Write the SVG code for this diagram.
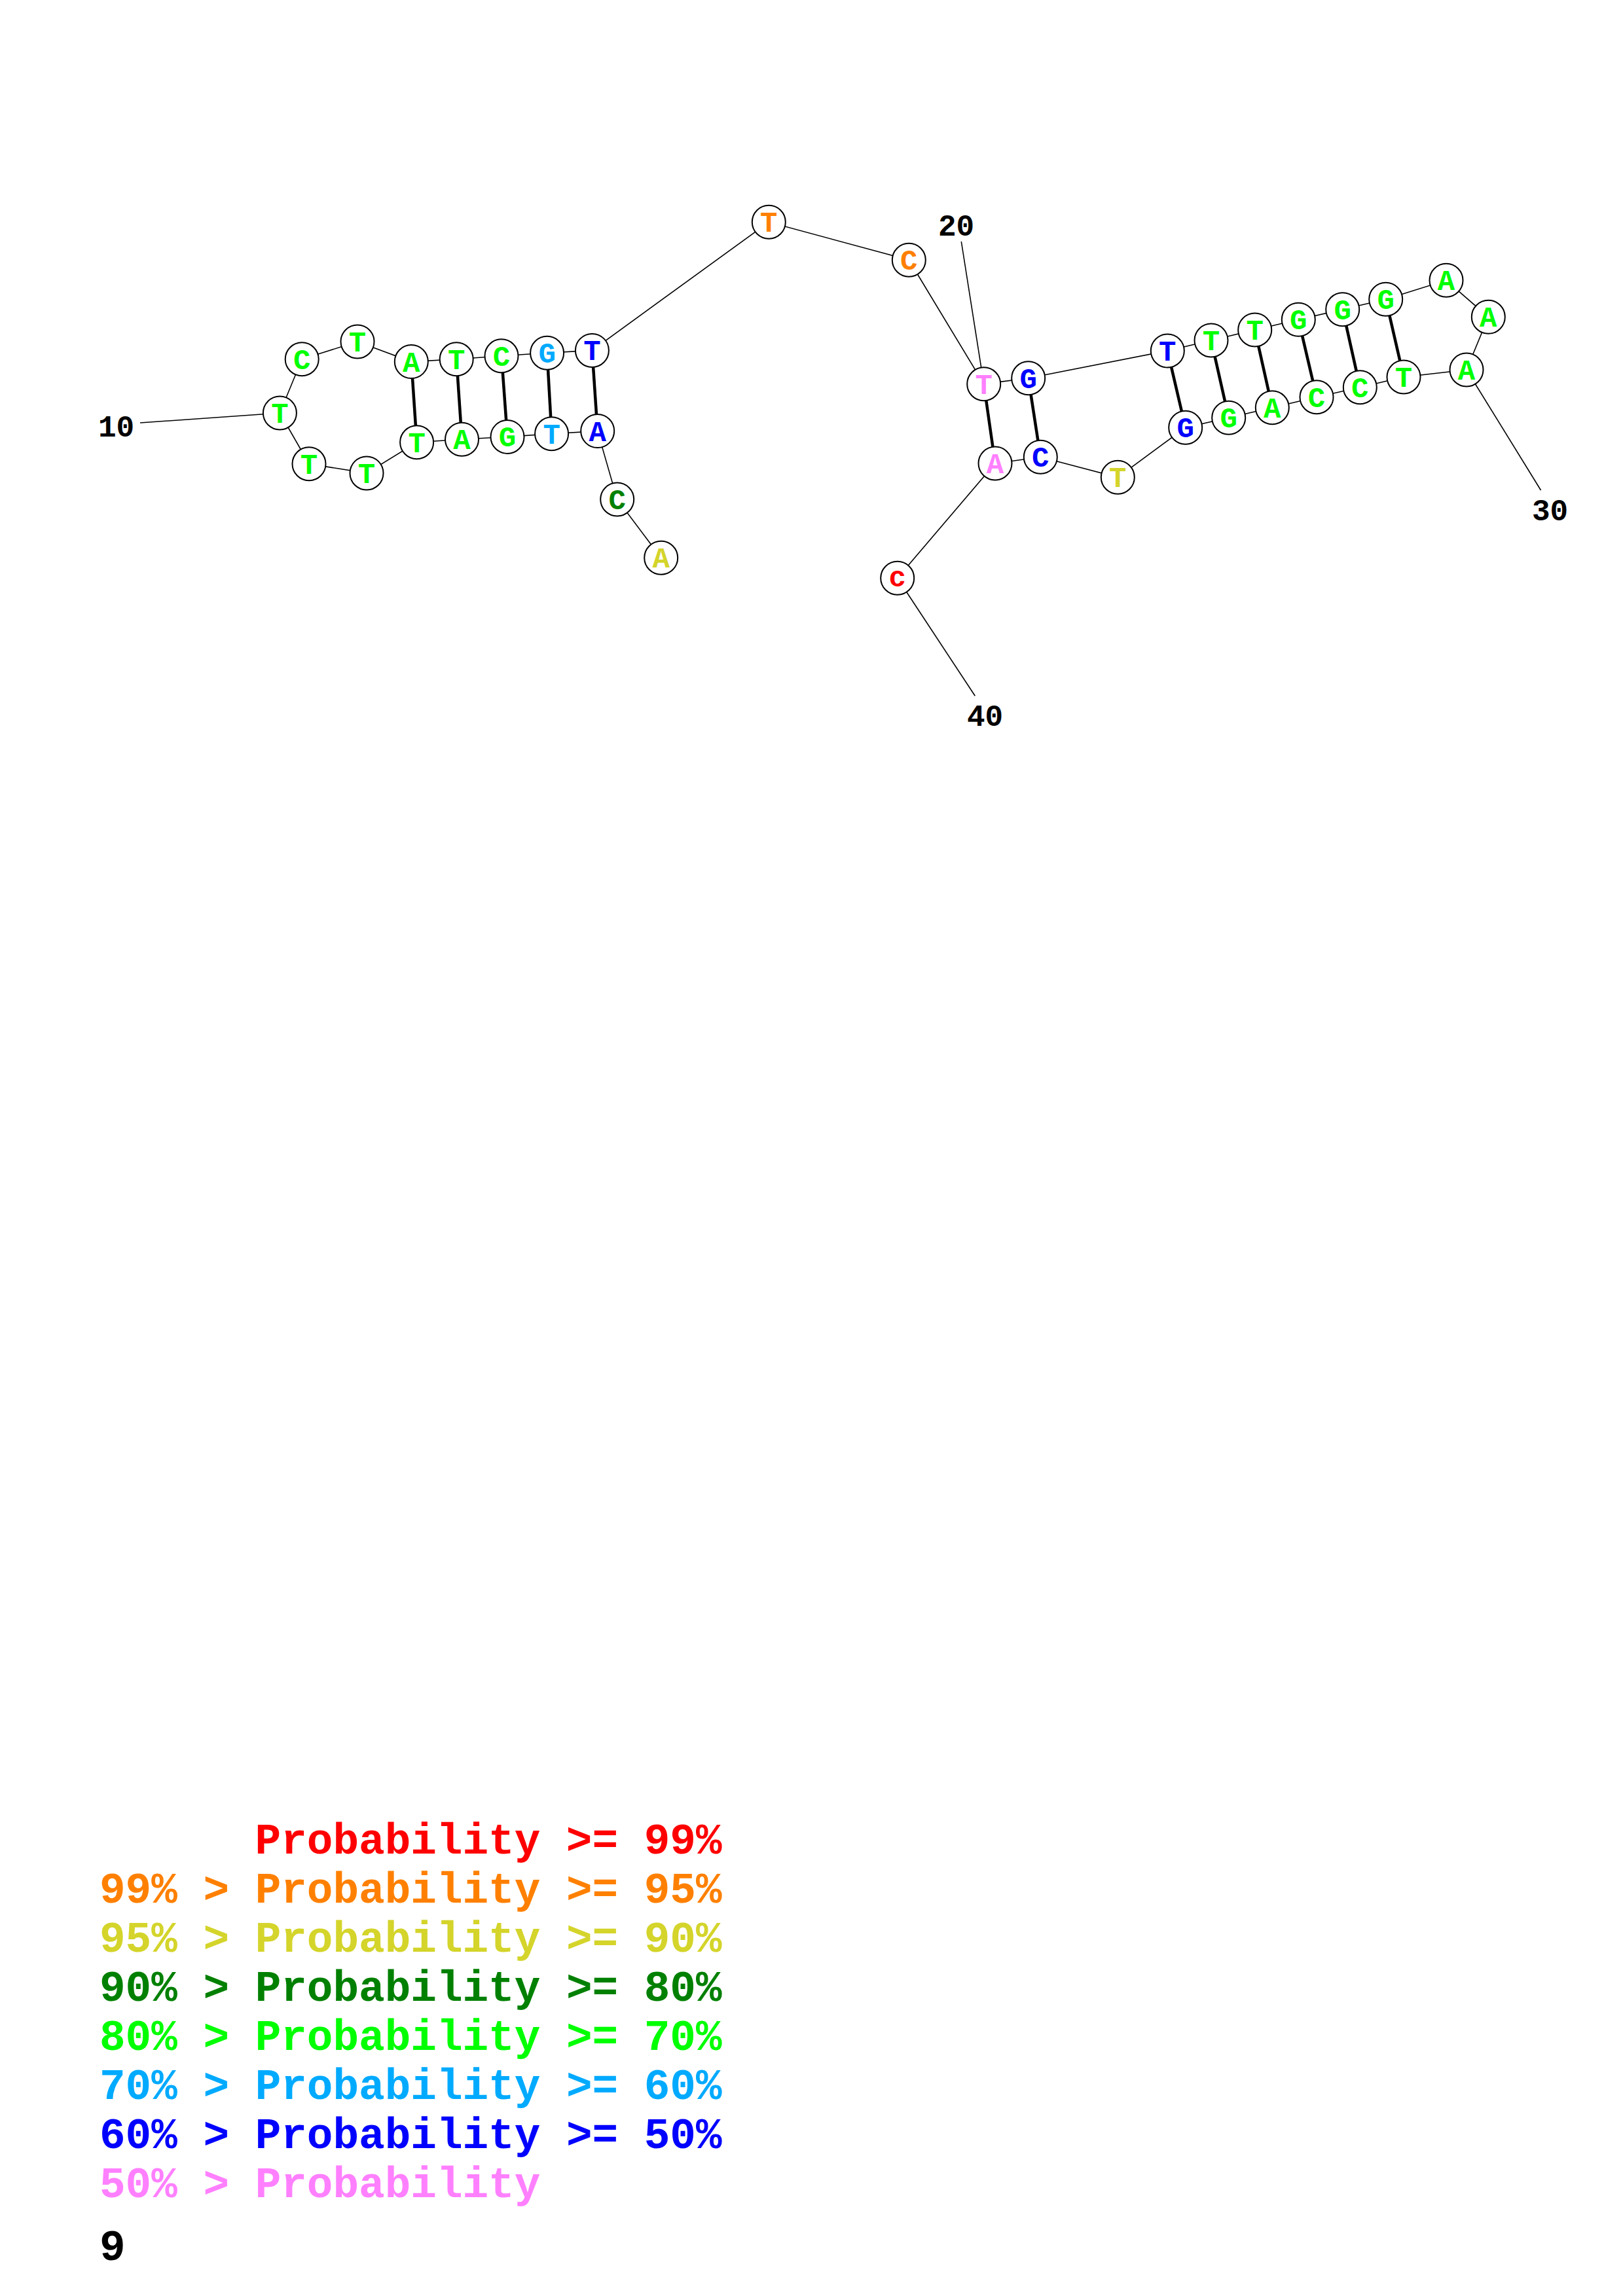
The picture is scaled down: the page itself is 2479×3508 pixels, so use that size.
<svg xmlns="http://www.w3.org/2000/svg" width="2479" height="3508" viewBox="0 0 2479 3508">
<style>
.bb{stroke:#000;stroke-width:1.6;fill:none}
.pr{stroke:#000;stroke-width:4.5;fill:none}
.lb{stroke:#000;stroke-width:1.6;fill:none}
.nd circle{fill:#fff;stroke:#000;stroke-width:2}
.nd text{font-family:"Liberation Mono","DejaVu Sans Mono",monospace;font-weight:bold;font-size:44px;text-anchor:middle}
.num{font-family:"Liberation Mono","DejaVu Sans Mono",monospace;font-weight:bold;font-size:46px;fill:#000}
.lg{font-family:"Liberation Mono","DejaVu Sans Mono",monospace;font-weight:bold;font-size:66px;white-space:pre}
.r{fill:#FF0000}.o{fill:#FF8000}.y{fill:#D4D42B}.dg{fill:#008000}.g{fill:#00FF00}.c{fill:#00AAFF}.b{fill:#0000FF}.p{fill:#FF80FF}
</style>
<rect width="2479" height="3508" fill="#fff"/>
<g id="connectors">
<polyline class="bb" points="1009.7,852.2 942.7,763 912.7,658.6 842.6,662.8 775,667.4 705.5,671.2 636.6,675.8 560,722.9 472,708.7 427.4,631 461.2,548.8 546,522 628.3,552.6 697.2,548.8 766,543.8 835.6,539.2 904.4,535.4 1174.3,339.3 1388.3,397.3 1502.7,586.7 1570.7,577.7 1783.3,536 1850,520 1916.7,504 1983.3,488.3 2050.7,472.7 2116.7,457.3 2209,428.3 2273.3,484.3 2240,565 2144,576 2077.3,591.7 2011,606.7 1943.3,622.7 1876.7,638.3 1810.7,653.3 1707.3,729.3 1589.3,698.3 1520,708 1370.7,883.3"/>
<line class="pr" x1="912.7" y1="658.6" x2="904.4" y2="535.4"/>
<line class="pr" x1="842.6" y1="662.8" x2="835.6" y2="539.2"/>
<line class="pr" x1="775" y1="667.4" x2="766" y2="543.8"/>
<line class="pr" x1="705.5" y1="671.2" x2="697.2" y2="548.8"/>
<line class="pr" x1="636.6" y1="675.8" x2="628.3" y2="552.6"/>
<line class="pr" x1="1502.7" y1="586.7" x2="1520" y2="708"/>
<line class="pr" x1="1570.7" y1="577.7" x2="1589.3" y2="698.3"/>
<line class="pr" x1="1783.3" y1="536" x2="1810.7" y2="653.3"/>
<line class="pr" x1="1850" y1="520" x2="1876.7" y2="638.3"/>
<line class="pr" x1="1916.7" y1="504" x2="1943.3" y2="622.7"/>
<line class="pr" x1="1983.3" y1="488.3" x2="2011" y2="606.7"/>
<line class="pr" x1="2050.7" y1="472.7" x2="2077.3" y2="591.7"/>
<line class="pr" x1="2116.7" y1="457.3" x2="2144" y2="576"/>
<line class="lb" x1="214" y1="646" x2="427.4" y2="631"/>
<line class="lb" x1="1468.3" y1="369" x2="1502.7" y2="586.7"/>
<line class="lb" x1="2353.5" y1="749" x2="2240" y2="565"/>
<line class="lb" x1="1489.3" y1="1063.3" x2="1370.7" y2="883.3"/>
</g>
<g id="n1" class="nd"><circle cx="1009.7" cy="852.2" r="25.5"/><text x="1009.7" y="867" class="y">A</text></g>
<g id="n2" class="nd"><circle cx="942.7" cy="763" r="25.5"/><text x="942.7" y="778" class="dg">C</text></g>
<g id="n3" class="nd"><circle cx="912.7" cy="658.6" r="25.5"/><text x="912.7" y="673.5" class="b">A</text></g>
<g id="n4" class="nd"><circle cx="842.6" cy="662.8" r="25.5"/><text x="842.6" y="677.7" class="c">T</text></g>
<g id="n5" class="nd"><circle cx="775" cy="667.4" r="25.5"/><text x="775" y="682.3" class="g">G</text></g>
<g id="n6" class="nd"><circle cx="705.5" cy="671.2" r="25.5"/><text x="705.5" y="686.1" class="g">A</text></g>
<g id="n7" class="nd"><circle cx="636.6" cy="675.8" r="25.5"/><text x="636.6" y="690.7" class="g">T</text></g>
<g id="n8" class="nd"><circle cx="560" cy="722.9" r="25.5"/><text x="560" y="737.8" class="g">T</text></g>
<g id="n9" class="nd"><circle cx="472" cy="708.7" r="25.5"/><text x="472" y="723.6" class="g">T</text></g>
<g id="n10" class="nd"><circle cx="427.4" cy="631" r="25.5"/><text x="427.4" y="645.9" class="g">T</text></g>
<g id="n11" class="nd"><circle cx="461.2" cy="548.8" r="25.5"/><text x="461.2" y="563.7" class="g">C</text></g>
<g id="n12" class="nd"><circle cx="546" cy="522" r="25.5"/><text x="546" y="536.9" class="g">T</text></g>
<g id="n13" class="nd"><circle cx="628.3" cy="552.6" r="25.5"/><text x="628.3" y="567.5" class="g">A</text></g>
<g id="n14" class="nd"><circle cx="697.2" cy="548.8" r="25.5"/><text x="697.2" y="563.7" class="g">T</text></g>
<g id="n15" class="nd"><circle cx="766" cy="543.8" r="25.5"/><text x="766" y="558.7" class="g">C</text></g>
<g id="n16" class="nd"><circle cx="835.6" cy="539.2" r="25.5"/><text x="835.6" y="554.1" class="c">G</text></g>
<g id="n17" class="nd"><circle cx="904.4" cy="535.4" r="25.5"/><text x="904.4" y="550.3" class="b">T</text></g>
<g id="n18" class="nd"><circle cx="1174.3" cy="339.3" r="25.5"/><text x="1174.3" y="354.2" class="o">T</text></g>
<g id="n19" class="nd"><circle cx="1388.3" cy="397.3" r="25.5"/><text x="1388.3" y="412.2" class="o">C</text></g>
<g id="n20" class="nd"><circle cx="1502.7" cy="586.7" r="25.5"/><text x="1502.7" y="601.6" class="p">T</text></g>
<g id="n21" class="nd"><circle cx="1570.7" cy="577.7" r="25.5"/><text x="1570.7" y="592.6" class="b">G</text></g>
<g id="n22" class="nd"><circle cx="1783.3" cy="536" r="25.5"/><text x="1783.3" y="550.9" class="b">T</text></g>
<g id="n23" class="nd"><circle cx="1850" cy="520" r="25.5"/><text x="1850" y="534.9" class="g">T</text></g>
<g id="n24" class="nd"><circle cx="1916.7" cy="504" r="25.5"/><text x="1916.7" y="518.9" class="g">T</text></g>
<g id="n25" class="nd"><circle cx="1983.3" cy="488.3" r="25.5"/><text x="1983.3" y="503.2" class="g">G</text></g>
<g id="n26" class="nd"><circle cx="2050.7" cy="472.7" r="25.5"/><text x="2050.7" y="487.6" class="g">G</text></g>
<g id="n27" class="nd"><circle cx="2116.7" cy="457.3" r="25.5"/><text x="2116.7" y="472.2" class="g">G</text></g>
<g id="n28" class="nd"><circle cx="2209" cy="428.3" r="25.5"/><text x="2209" y="443.2" class="g">A</text></g>
<g id="n29" class="nd"><circle cx="2273.3" cy="484.3" r="25.5"/><text x="2273.3" y="499.2" class="g">A</text></g>
<g id="n30" class="nd"><circle cx="2240" cy="565" r="25.5"/><text x="2240" y="579.9" class="g">A</text></g>
<g id="n31" class="nd"><circle cx="2144" cy="576" r="25.5"/><text x="2144" y="590.9" class="g">T</text></g>
<g id="n32" class="nd"><circle cx="2077.3" cy="591.7" r="25.5"/><text x="2077.3" y="606.6" class="g">C</text></g>
<g id="n33" class="nd"><circle cx="2011" cy="606.7" r="25.5"/><text x="2011" y="621.6" class="g">C</text></g>
<g id="n34" class="nd"><circle cx="1943.3" cy="622.7" r="25.5"/><text x="1943.3" y="637.6" class="g">A</text></g>
<g id="n35" class="nd"><circle cx="1876.7" cy="638.3" r="25.5"/><text x="1876.7" y="653.2" class="g">G</text></g>
<g id="n36" class="nd"><circle cx="1810.7" cy="653.3" r="25.5"/><text x="1810.7" y="668.2" class="b">G</text></g>
<g id="n37" class="nd"><circle cx="1707.3" cy="729.3" r="25.5"/><text x="1707.3" y="744.2" class="y">T</text></g>
<g id="n38" class="nd"><circle cx="1589.3" cy="698.3" r="25.5"/><text x="1589.3" y="713.2" class="b">C</text></g>
<g id="n39" class="nd"><circle cx="1520" cy="708" r="25.5"/><text x="1520" y="722.9" class="p">A</text></g>
<g id="n40" class="nd"><circle cx="1370.7" cy="883.3" r="25.5"/><text x="1370.7" y="895.6" class="r">c</text></g>
<g id="labels">
<text class="num" x="150" y="667">10</text>
<text class="num" x="1433" y="360">20</text>
<text class="num" x="2340" y="795">30</text>
<text class="num" x="1477" y="1109">40</text>
</g>
<g id="legend">
<text class="lg r" x="389.6" y="2832">Probability &gt;= 99%</text>
<text class="lg o" x="152" y="2907">99% &gt; Probability &gt;= 95%</text>
<text class="lg y" x="152" y="2982">95% &gt; Probability &gt;= 90%</text>
<text class="lg dg" x="152" y="3057">90% &gt; Probability &gt;= 80%</text>
<text class="lg g" x="152" y="3132">80% &gt; Probability &gt;= 70%</text>
<text class="lg c" x="152" y="3207">70% &gt; Probability &gt;= 60%</text>
<text class="lg b" x="152" y="3282">60% &gt; Probability &gt;= 50%</text>
<text class="lg p" x="152" y="3357">50% &gt; Probability</text>
<text class="lg" x="152" y="3453" fill="#000">9</text>
</g>
</svg>
